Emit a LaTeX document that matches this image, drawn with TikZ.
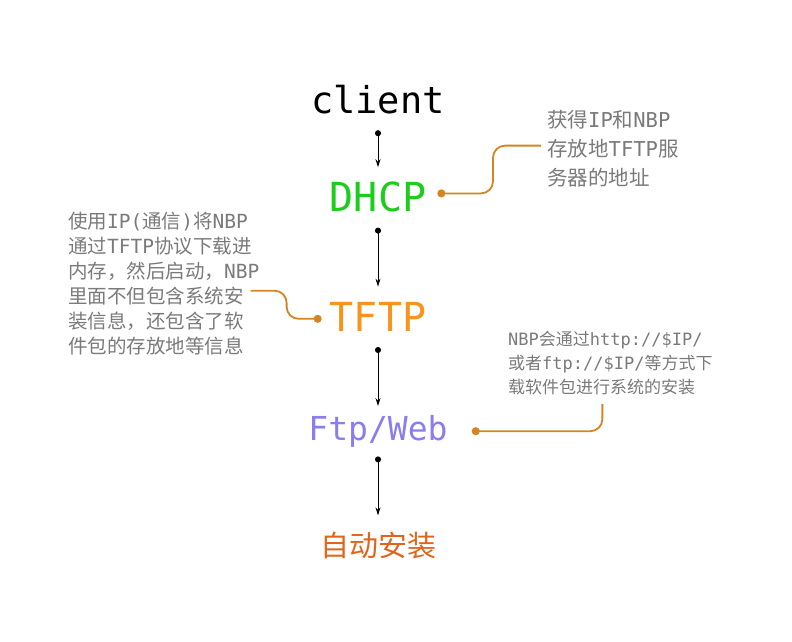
\documentclass[tikz,border=0pt]{standalone}
\usepackage{fontspec}
\setmonofont{DejaVu Sans Mono}
\newfontfamily\cjk{Noto Sans CJK SC}
\usetikzlibrary{
  arrows.meta,
  positioning,
  calc
}
\definecolor{dhcpgreen}{HTML}{1DCC1D}
\definecolor{tftporange}{HTML}{F7941E}
\definecolor{webpurple}{HTML}{8A7EEE}
\definecolor{installorange}{HTML}{E0651A}
\definecolor{notegray}{HTML}{7A7A7A}
\definecolor{linkorange}{HTML}{D4851F}
\newcommand\lat[1]{{\ttfamily #1}}

\begin{document}
\begin{tikzpicture}[x=1pt, y=-1pt, node distance = 59pt,
    stage/.style = {inner sep=0, minimum height=60pt, font=\ttfamily\fontsize{40}{44}\selectfont},
    note/.style = {inner sep=0, align=left, anchor=north west, text=notegray},
    flow/.style = {{Circle[length=6pt]}-{Stealth[length=8pt,width=5pt]}, line width=1pt},
    link/.style = {{Circle[length=8pt]}-, draw=linkorange, line width=1.8pt, rounded corners=12pt}]
    \useasboundingbox (0,0) rectangle (792,641);

    \node[stage,font=\ttfamily\fontsize{37}{40}\selectfont] (client) at (378,100) {client};
    \node[stage,text=dhcpgreen,below = 37pt of client] (dhcp) {DHCP};
    \node[stage,text=tftporange,below = of dhcp] (tftp) {TFTP};
    \node[stage,text=webpurple,minimum height=50pt,font=\ttfamily\fontsize{33}{36}\selectfont,below = of tftp] (web) {Ftp/Web};
    \node[stage,text=installorange,font=\cjk\fontsize{29}{32}\selectfont,below = of web] (install) {自动安装};

    \node[note,font=\cjk\fontsize{20.5}{29}\selectfont] (n1) at (547,110)
      {获得\lat{IP}和\lat{NBP}\\存放地\lat{TFTP}服\\务器的地址};
    \node[note,font=\cjk\fontsize{19.5}{25}\selectfont] (n2) at (68,212)
      {使用\lat{IP(}通信\lat{)}将\lat{NBP}\\通过\lat{TFTP}协议下载进\\内存，然后启动，\lat{NBP}\\里面不但包含系统安\\装信息，还包含了软\\件包的存放地等信息};
    \node[note,font=\cjk\fontsize{17}{24}\selectfont] (n3) at (508,331)
      {\lat{NBP}会通过\lat{http://\$IP/}\\或者\lat{ftp://\$IP/}等方式下\\载软件包进行系统的安装};

    \draw[flow] (client) -- (dhcp);
    \draw[flow] (dhcp) -- (tftp);
    \draw[flow] (tftp) -- (web);
    \draw[flow] (web) -- (install);

    \draw[link] ([shift={(11,-4)}]dhcp.east) -| ([shift={(-54,-3)}]n1.west) -- ([shift={(-6,-3)}]n1.west);
    \draw[link] ([shift={(-8,2)}]tftp.west) -| ([shift={(27,7)}]n2.east) -- ([shift={(-9,7)}]n2.east);
    \draw[link] ([xshift=24pt]web.east) -| ([shift={(-8,9)}]n3.south);
  \end{tikzpicture}
\end{document}
